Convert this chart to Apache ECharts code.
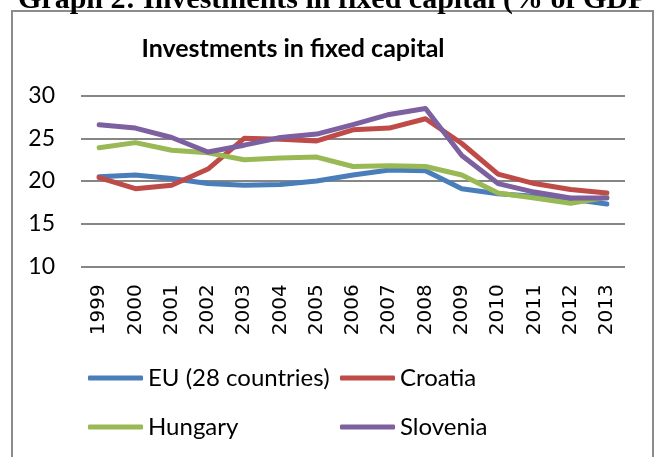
<!DOCTYPE html>
<html>
<head>
<meta charset="utf-8">
<script src="https://cdn.jsdelivr.net/npm/echarts@6/dist/echarts.min.js"></script>
<style>
html,body{margin:0;padding:0;background:#fff;}
#chart{width:657px;height:457px;}
</style>
</head>
<body>
<div id="chart"></div>
<script>
const years = ['1999','2000','2001','2002','2003','2004','2005','2006','2007','2008','2009','2010','2011','2012','2013'];
const euValues       = [20.5, 20.7, 20.3, 19.7, 19.5, 19.6, 20.0, 20.7, 21.3, 21.2, 19.1, 18.5, 18.2, 17.9, 17.3];
const croatiaValues  = [20.4, 19.1, 19.5, 21.4, 25.0, 24.9, 24.7, 26.0, 26.2, 27.3, 24.4, 20.8, 19.7, 19.0, 18.6];
const hungaryValues  = [23.9, 24.5, 23.6, 23.3, 22.5, 22.7, 22.8, 21.7, 21.8, 21.7, 20.7, 18.6, 18.0, 17.4, 18.1];
const sloveniaValues = [26.6, 26.2, 25.1, 23.4, 24.2, 25.1, 25.5, 26.6, 27.8, 28.5, 23.0, 19.7, 18.7, 18.0, 18.0];
const seriesNames = ['EU (28 countries)', 'Croatia', 'Hungary', 'Slovenia'];
const yTicks = [10, 15, 20, 25, 30];

const colors = ['#4a7ebb', '#be4b48', '#98b954', '#7d60a0'];
const allValues = [euValues, croatiaValues, hungaryValues, sloveniaValues];

const chart = echarts.init(document.getElementById('chart'), null, {renderer: 'canvas'});

const legendText = {fontFamily: 'Lato', fontSize: 24, color: '#000'};
function legendFor(name, left, top) {
  return {
    data: [name], left: left, top: top, orient: 'horizontal',
    icon: 'roundRect', itemWidth: 55, itemHeight: 5, itemGap: 5,
    textStyle: legendText, padding: 0, selectedMode: false
  };
}

chart.setOption({
  animation: false,
  backgroundColor: '#fff',
  color: colors,
  title: {
    text: 'Investments in fixed capital',
    left: 288, textAlign: 'center', top: 31,
    textStyle: {fontFamily: 'Lato', fontWeight: 'bold', fontSize: 25, color: '#000'}
  },
  graphic: [
    {type: 'rect', shape: {x: 12, y: 11, width: 641, height: 460},
     style: {fill: 'none', stroke: '#8c8c8c', lineWidth: 2}, silent: true},
    {type: 'text', x: 18, y: 15,
     style: {text: 'Graph 2: Investments in fixed capital (% of GDP', fontFamily: 'Liberation Serif',
             fontWeight: 'bold', fontSize: 30, fill: '#000', verticalAlign: 'bottom'}}
  ],
  legend: [
    legendFor(seriesNames[0], 88, 366),
    legendFor(seriesNames[1], 340, 366),
    legendFor(seriesNames[2], 88, 415),
    legendFor(seriesNames[3], 340, 415)
  ],
  grid: {left: 81, right: 32, top: 95.7, bottom: 190.7, containLabel: false},
  xAxis: {
    type: 'category', data: years, boundaryGap: true,
    axisLine: {show: false}, axisTick: {show: false},
    axisLabel: {rotate: 90, fontFamily: 'DejaVu Sans', fontSize: 20, color: '#000', margin: 18}
  },
  yAxis: {
    type: 'value', min: yTicks[0], max: yTicks[yTicks.length - 1], interval: 5,
    axisLine: {show: false}, axisTick: {show: false},
    axisLabel: {fontFamily: 'Lato', fontSize: 23, color: '#000', margin: 26},
    splitLine: {lineStyle: {color: '#868686', width: 2}}
  },
  series: seriesNames.map((n, i) => ({
    name: n, type: 'line', data: allValues[i], showSymbol: false, symbol: 'none',
    lineStyle: {width: 5, color: colors[i], cap: 'round', join: 'round'},
    itemStyle: {color: colors[i]}
  }))
});
</script>
</body>
</html>
